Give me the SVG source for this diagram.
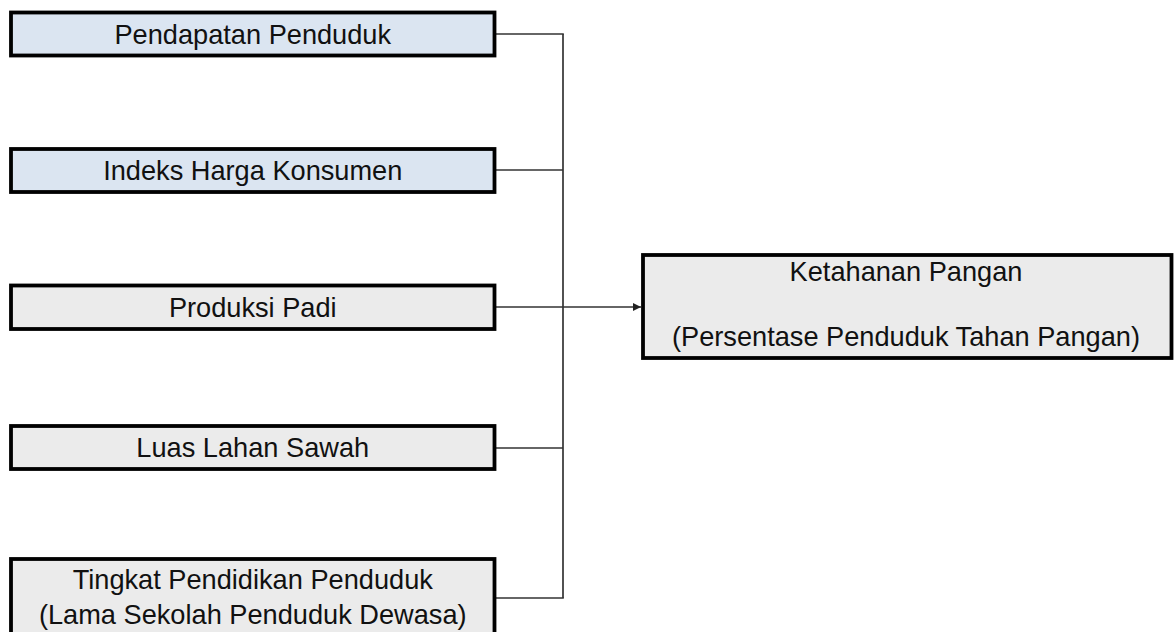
<svg xmlns="http://www.w3.org/2000/svg" width="1175" height="632" viewBox="0 0 1175 632">
  <style>
    .box { stroke: #000; stroke-width: 3.8; }
    .blue { fill: #dbe5f1; }
    .gray { fill: #ebebeb; }
    .lbl { font-family: "Liberation Sans", Arial, sans-serif; font-size: 27.2px; fill: #111; text-anchor: middle; }
    .conn { fill: none; stroke: #333; stroke-width: 1.7; }
  </style>
  <defs>
    <marker id="arrow" markerWidth="10" markerHeight="10" refX="8" refY="4" orient="auto" markerUnits="userSpaceOnUse">
      <path d="M0,0 L8,4 L0,8 Z" fill="#222"/>
    </marker>
  </defs>
  <rect width="1175" height="632" fill="#fff"/>

  <g id="connectors">
    <line class="conn" x1="563" y1="34" x2="563" y2="598"/>
    <line class="conn" x1="496" y1="34" x2="563.8" y2="34"/>
    <line class="conn" x1="496" y1="170" x2="563" y2="170"/>
    <line class="conn" x1="496" y1="448" x2="563" y2="448"/>
    <line class="conn" x1="496" y1="598" x2="563.8" y2="598"/>
    <line class="conn" x1="496" y1="307" x2="641" y2="307" marker-end="url(#arrow)"/>
  </g>

  <g id="node-pendapatan">
    <rect class="box blue" x="11" y="12.5" width="483.5" height="43"/>
    <text class="lbl" x="252.75" y="43.5">Pendapatan Penduduk</text>
  </g>

  <g id="node-ihk">
    <rect class="box blue" x="11" y="149" width="483.5" height="43"/>
    <text class="lbl" x="252.75" y="180.3">Indeks Harga Konsumen</text>
  </g>

  <g id="node-padi">
    <rect class="box gray" x="11" y="285.5" width="483.5" height="43.5"/>
    <text class="lbl" x="252.75" y="317">Produksi Padi</text>
  </g>

  <g id="node-lahan">
    <rect class="box gray" x="11" y="426" width="483.5" height="43"/>
    <text class="lbl" x="252.75" y="457">Luas Lahan Sawah</text>
  </g>

  <g id="node-pendidikan">
    <rect class="box gray" x="11" y="559" width="483.5" height="100"/>
    <text class="lbl" x="252.75" y="589">Tingkat Pendidikan Penduduk</text>
    <text class="lbl" x="252.75" y="624">(Lama Sekolah Penduduk Dewasa)</text>
  </g>

  <g id="node-ketahanan">
    <rect class="box gray" x="643" y="255" width="528.5" height="103"/>
    <text class="lbl" x="906" y="281">Ketahanan Pangan</text>
    <text class="lbl" x="906" y="346">(Persentase Penduduk Tahan Pangan)</text>
  </g>
</svg>
